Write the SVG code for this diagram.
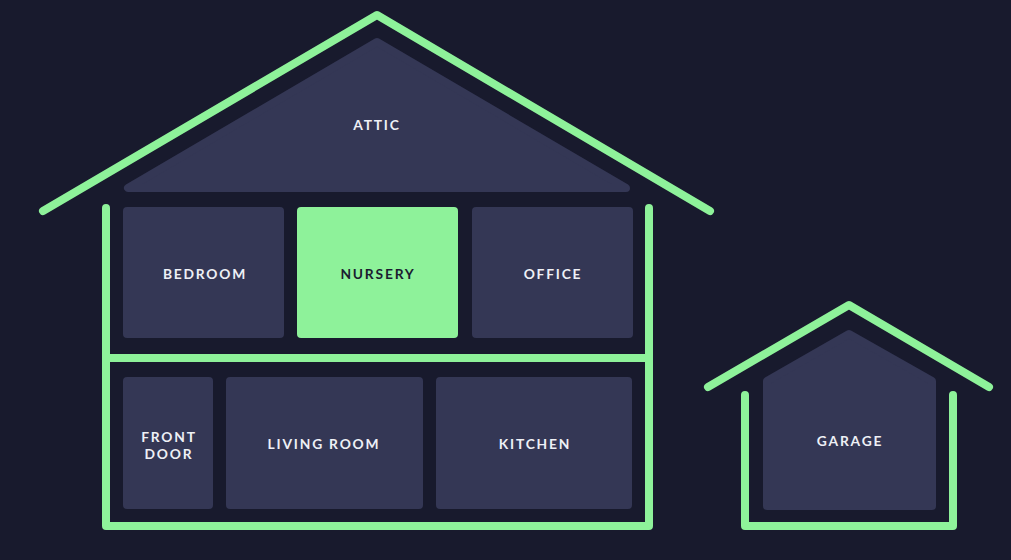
<svg xmlns="http://www.w3.org/2000/svg" width="1011" height="560" viewBox="0 0 1011 560">
<defs>
<style>
.wall{fill:none;stroke:#8ef29a;stroke-width:8;stroke-linecap:round;stroke-linejoin:round}
.room{fill:#343755}
.hl{fill:#8ef29a}
.shape{fill:#343755;stroke:#343755;stroke-width:8;stroke-linejoin:round}
.lbl{font-family:Lato,"Open Sans",sans-serif;font-weight:700;font-size:13.8px;letter-spacing:1.8px;fill:#eef0f6;text-anchor:middle}
.dark{fill:#1b1d30}
</style>
</defs>
<rect width="1011" height="560" fill="#181a2d"/>
<g id="connectors">
<polyline class="wall" points="43,211 377,15 710,211"/>
<polyline class="wall" points="106,208 106,526 649,526 649,208"/>
<line class="wall" x1="106" y1="358" x2="649" y2="358"/>
<polyline class="wall" points="708,387 849,305 989,387"/>
<polyline class="wall" points="745,395 745,526 953,526 953,395"/>
</g>
<g id="attic">
<polygon class="shape" points="377,42 128,188 626,188"/>
<text class="lbl" x="377" y="130">ATTIC</text>
</g>
<g id="bedroom">
<rect class="room" x="123" y="207" width="161" height="131" rx="4"/>
<text class="lbl" x="205" y="279">BEDROOM</text>
</g>
<g id="nursery">
<rect class="hl" x="297" y="207" width="161" height="131" rx="4"/>
<text class="lbl dark" x="378" y="279">NURSERY</text>
</g>
<g id="office">
<rect class="room" x="472" y="207" width="161" height="131" rx="4"/>
<text class="lbl" x="553" y="279">OFFICE</text>
</g>
<g id="front-door">
<rect class="room" x="123" y="377" width="90" height="132" rx="4"/>
<text class="lbl" x="169" y="442">FRONT</text>
<text class="lbl" x="169" y="459">DOOR</text>
</g>
<g id="living-room">
<rect class="room" x="226" y="377" width="197" height="132" rx="4"/>
<text class="lbl" x="324" y="449">LIVING ROOM</text>
</g>
<g id="kitchen">
<rect class="room" x="436" y="377" width="196" height="132" rx="4"/>
<text class="lbl" x="535" y="449">KITCHEN</text>
</g>
<g id="garage">
<polygon class="shape" points="849,334 767,381 767,506 932,506 932,381"/>
<text class="lbl" x="850" y="446">GARAGE</text>
</g>
</svg>
